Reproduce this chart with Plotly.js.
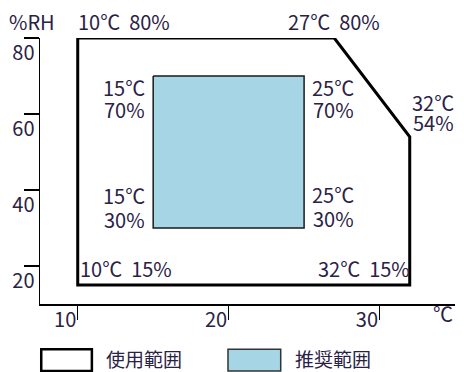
<!DOCTYPE html>
<html><head><meta charset="utf-8">
<script src="https://cdn.plot.ly/plotly-3.0.1.min.js"></script>
<style>html,body{margin:0;padding:0;background:#fff}</style>
</head><body>
<div id="chart" style="width:464px;height:372px"></div>
<script>
// Operating range polygon (temperature °C, humidity %RH)
const useTemp = [10, 27, 32, 32, 10];
const useHum  = [80, 80, 54, 15, 15];
// Recommended range rectangle
const recTemp = [15, 25, 25, 15];
const recHum  = [70, 70, 30, 30];
const xTicks = [10, 20, 30];
const yTicks = [20, 40, 60, 80];
const legendNames = ['使用範囲', '推奨範囲'];
const xUnit = '℃';
const yUnit = '%RH';

const FONT = '"Noto Sans CJK JP", "Noto Sans", sans-serif';
const TXT = '#2a2245';

const traces = [
  {x: useTemp.concat([useTemp[0]]), y: useHum.concat([useHum[0]]), mode: 'lines',
   line: {color: '#000', width: 3}, hoverinfo: 'skip'},
  {x: recTemp.concat([recTemp[0]]), y: recHum.concat([recHum[0]]), mode: 'lines',
   fill: 'toself', fillcolor: '#a6d6e6', line: {color: '#1a1a1a', width: 1.5}, hoverinfo: 'skip'}
];

const ann = [];
function addT(x, y, text, xa, ya, xs, ys, h) {
  const a = {x: x, y: y, xref: 'x', yref: 'y', text: text, showarrow: false,
    xanchor: xa, yanchor: ya, xshift: xs, yshift: ys,
    font: {family: FONT, size: 20, color: TXT}};
  if (h) a.height = h;
  ann.push(a);
}
// single-line corner labels
function one(t, h, xa, xs) { addT(t, h, `${t}℃  ${h}%`, xa, 'bottom', xs, 0); }
// two-line labels, lines placed separately
function two(t, h, xa, xs, ys1, ys2) {
  addT(t, h, `${t}℃`, xa, 'middle', xs, ys1, 20);
  addT(t, h, `${h}%`, xa, 'middle', xs, ys2, 20);
}
one(useTemp[0], useHum[0], 'left', -2);
one(useTemp[1], useHum[1], 'center', 0);
one(useTemp[4], useHum[4], 'left', 0);
one(useTemp[3], useHum[3], 'right', 2);
addT(useTemp[2], useHum[2], `${useTemp[2]}℃`, 'right', 'middle', 46, 35, 20);
addT(useTemp[2], useHum[2], `${useHum[2]}%`, 'right', 'middle', 46, 15, 20);
two(recTemp[0], recHum[0], 'center', -29, -11, -33);
two(recTemp[1], recHum[1], 'center', 29, -11, -33);
two(recTemp[3], recHum[3], 'center', -29, 33, 9);
two(recTemp[2], recHum[2], 'center', 29, 34, 10);

// axis unit labels
ann.push({xref: 'paper', yref: 'paper', x: -0.08, y: 1.0, text: yUnit, showarrow: false,
  xanchor: 'left', yanchor: 'bottom', font: {family: FONT, size: 20, color: TXT}});
ann.push({xref: 'paper', yref: 'paper', x: 1.0, y: 0.026, text: xUnit, showarrow: false,
  xanchor: 'right', yanchor: 'top', font: {family: FONT, size: 20, color: TXT}});
// legend labels
ann.push({xref: 'paper', yref: 'paper', x: 0.155, y: -0.205, text: legendNames[0], showarrow: false,
  xanchor: 'left', yanchor: 'middle', font: {family: FONT, size: 19, color: TXT}});
ann.push({xref: 'paper', yref: 'paper', x: 0.61, y: -0.205, text: legendNames[1], showarrow: false,
  xanchor: 'left', yanchor: 'middle', font: {family: FONT, size: 19, color: TXT}});

const shapes = [
  {type: 'rect', xref: 'paper', yref: 'paper', x0: 0.003, x1: 0.125, y0: -0.252, y1: -0.17,
   line: {color: '#000', width: 2.5}, fillcolor: '#fff'},
  {type: 'rect', xref: 'paper', yref: 'paper', x0: 0.453, x1: 0.58, y0: -0.252, y1: -0.17,
   line: {color: '#333', width: 1.5}, fillcolor: '#a6d6e6'}
];

const layout = {
  width: 464, height: 372,
  margin: {l: 40, r: 9, t: 38, b: 68},
  paper_bgcolor: '#fff', plot_bgcolor: '#fff',
  showlegend: false,
  font: {family: FONT, size: 20, color: TXT},
  xaxis: {range: [7.5, 35], tickvals: xTicks, ticktext: xTicks.map(String),
    showgrid: false, zeroline: false, showline: true, linecolor: '#000', linewidth: 1.5,
    ticks: 'outside', ticklen: 14, tickwidth: 1.5, tickcolor: '#000',
    ticklabelposition: 'outside left', ticklabelstandoff: -3,
    tickfont: {family: FONT, size: 20, color: TXT}},
  yaxis: {range: [10, 80], tickvals: yTicks, ticktext: yTicks.map(String),
    showgrid: false, zeroline: false, showline: true, linecolor: '#000', linewidth: 1.5,
    ticks: 'outside', ticklen: 15, tickwidth: 1.5, tickcolor: '#000',
    ticklabelposition: 'outside bottom', tickfont: {family: FONT, size: 20, color: TXT}},
  annotations: ann,
  shapes: shapes
};

Plotly.newPlot('chart', traces, layout, {staticPlot: true, displayModeBar: false});
</script>
</body></html>
